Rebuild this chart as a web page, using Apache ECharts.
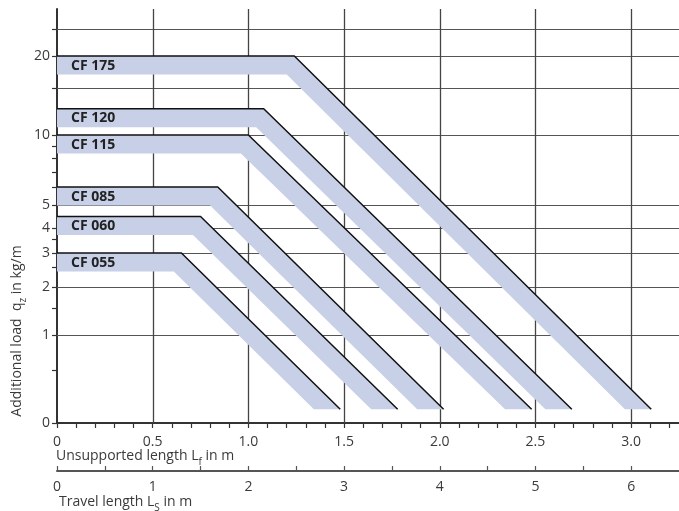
<!DOCTYPE html>
<html><head><meta charset="utf-8">
<script src="https://cdn.jsdelivr.net/npm/echarts@6/dist/echarts.min.js"></script>
<style>html,body{margin:0;padding:0;background:#fff}#c{width:679px;height:511px}</style>
</head><body><div id="c"></div>
<script>
// ---- data ----
const categories = ['CF 055', 'CF 060', 'CF 085', 'CF 115', 'CF 120', 'CF 175'];
const loadLevel  = [3, 4.5, 6, 10, 12.8, 20];          // kg/m, flat part
const kneeLength = [0.65, 0.75, 0.84, 1.0, 1.08, 1.24];   // Lf (m) where the curve starts to drop
const endLength  = [1.48, 1.78, 2.02, 2.48, 2.69, 3.105]; // Lf (m) at the end of the curve
const endLoad    = 0.13;                                  // kg/m at the end of every curve

// ---- axis definitions ----
// non-linear load scale: load values and their relative position on the axis
const yScaleQ   = [0, 0.5, 1, 1.5, 2, 2.5, 3, 3.5, 4, 5, 6, 7, 8, 9, 10, 15, 20, 30, 40];
const yScalePos = [0, 53, 88, 115, 136, 156, 170, 184, 195, 218, 236, 251, 265, 277, 288, 335, 367, 394, 414];
const yTickQ    = [0, 0.5, 1, 1.5, 2, 2.5, 3, 3.5, 4, 5, 6, 7, 8, 9, 10, 15, 20, 30];
const yLabelQ   = [0, 1, 2, 3, 4, 5, 10, 20];
const yGridQ    = [1, 2, 3, 4, 5, 10, 15, 20, 30];

const lfTicks  = [0,0.1,0.2,0.3,0.4,0.5,0.6,0.7,0.8,0.9,1,1.1,1.2,1.3,1.4,1.5,1.6,1.7,1.8,1.9,2,2.1,2.2,2.3,2.4,2.5,2.6,2.7,2.8,2.9,3,3.1,3.2];
const lfLabels = [0, 0.5, 1, 1.5, 2, 2.5, 3];
const lfGrid   = [0.5, 1, 1.5, 2, 2.5, 3];
const lsTicks  = [0,0.5,1,1.5,2,2.5,3,3.5,4,4.5,5,5.5,6];
const lsLabels = [0, 1, 2, 3, 4, 5, 6];

function toU(q) {
  for (let i = 1; i < yScaleQ.length; i++) {
    if (q <= yScaleQ[i]) {
      const t = (q - yScaleQ[i-1]) / (yScaleQ[i] - yScaleQ[i-1]);
      return yScalePos[i-1] + t * (yScalePos[i] - yScalePos[i-1]);
    }
  }
  return yScalePos[yScalePos.length-1];
}
const FONT = 'Open Sans';
const FS = 14;
const TXT = '#3a3a3a';
const yTickPos = yTickQ.map(toU);
const yLabelPos = yLabelQ.map(toU);
function yLabelFor(v) {
  let best = 0, bd = 1e9;
  yLabelPos.forEach((p, i) => { const d = Math.abs(p - v); if (d < bd) { bd = d; best = i; } });
  return String(yLabelQ[best]);
}

const BAND = 18.5;
function renderBand(params, api) {
  const A = api.coord([0, api.value(1)]);
  const B = api.coord([api.value(0), api.value(1)]);
  const C = api.coord([api.value(2), api.value(3)]);
  const dx = C[0]-B[0], dy = C[1]-B[1], L = Math.hypot(dx, dy);
  const vx = dx/L, vy = dy/L;
  const nx = -vy, ny = vx;
  const t1 = BAND*(1-ny)/vy;
  const Bp = [B[0] + BAND*nx + t1*vx, B[1] + BAND];
  const t2 = (C[1] - (B[1] + BAND*ny))/vy;
  const Cp = [B[0] + BAND*nx + t2*vx, C[1]];
  const Ap = [A[0], A[1] + BAND];
  return {
    type: 'group',
    children: [
      { type: 'polygon', shape: { points: [A, B, C, Cp, Bp, Ap] }, style: { fill: '#c8d0e8' } },
      { type: 'text', x: A[0] + 14, y: A[1] + BAND/2 + 0.5,
        style: { text: categories[api.value(4)], fontFamily: FONT, fontWeight: 'bold', fontSize: FS,
                 fill: '#222', textAlign: 'left', textVerticalAlign: 'middle' } }
    ]
  };
}
function renderHGrid(params, api) {
  const cs = params.coordSys;
  const p = api.coord([0, api.value(1)]);
  const y = Math.round(p[1]) + 0.5;
  return { type: 'line', shape: { x1: cs.x, y1: y, x2: cs.x + cs.width, y2: y },
           style: { stroke: '#555', lineWidth: 1.2 } };
}
function renderVGrid(params, api) {
  const cs = params.coordSys;
  const p = api.coord([api.value(0), 0]);
  const x = Math.round(p[0]) + 0.5;
  return { type: 'line', shape: { x1: x, y1: cs.y, x2: x, y2: cs.y + cs.height },
           style: { stroke: '#444', lineWidth: 1.3 } };
}

const series = [
  { type: 'custom', name: 'hgrid', z: 1, silent: true, renderItem: renderHGrid,
    encode: { x: 0, y: 1 }, data: yGridQ.map(q => [0, toU(q)]) },
  { type: 'custom', name: 'vgrid', z: 1, silent: true, renderItem: renderVGrid,
    encode: { x: 0, y: 1 }, data: lfGrid.map(x => [x, 0]) },
  { type: 'custom', name: 'bands', z: 3, silent: true, renderItem: renderBand,
    encode: { x: [0, 2], y: [1, 3] },
    data: categories.map((c, i) => [kneeLength[i], toU(loadLevel[i]), endLength[i], toU(endLoad), i]) }
];
categories.forEach((c, i) => {
  series.push({
    type: 'line', name: c, z: 4, silent: true, symbol: 'none',
    lineStyle: { color: '#111', width: 1.5 },
    data: [[0, toU(loadLevel[i])], [kneeLength[i], toU(loadLevel[i])], [endLength[i], toU(endLoad)]]
  });
});

const subStyle = { fontFamily: FONT, fontSize: 10, fill: TXT, verticalAlign: 'top', lineHeight: 10, padding: [8,0,0,0] };
const chart = echarts.init(document.getElementById('c'), null, { renderer: 'canvas' });
chart.setOption({
  animation: false,
  backgroundColor: '#fff',
  grid: { left: 57, right: 0, top: 9, bottom: 88, containLabel: false },
  xAxis: [
    { type: 'value', min: 0, max: 3.25, position: 'bottom',
      axisLine: { show: true, onZero: false, lineStyle: { color: '#333', width: 2 } },
      axisTick: { show: true, customValues: lfTicks, length: 5, lineStyle: { color: '#333', width: 1.2 } },
      axisLabel: { customValues: lfLabels, formatter: v => v === 0 ? '0' : v.toFixed(1),
                   margin: 12, color: TXT, fontSize: FS, fontFamily: FONT },
      splitLine: { show: false } },
    { type: 'value', min: 0, max: 6.5, position: 'bottom', offset: 48,
      axisLine: { show: true, onZero: false, lineStyle: { color: '#555', width: 2 } },
      axisTick: { show: true, inside: true, customValues: lsTicks, length: 5, lineStyle: { color: '#555', width: 1.2 } },
      axisLabel: { customValues: lsLabels, formatter: v => String(v),
                   margin: 9, color: TXT, fontSize: FS, fontFamily: FONT },
      splitLine: { show: false } }
  ],
  yAxis: {
    type: 'value', min: 0, max: 414,
    axisLine: { show: true, onZero: false, lineStyle: { color: '#333', width: 2 } },
    axisTick: { show: true, customValues: yTickPos, length: 5, lineStyle: { color: '#333', width: 1.2 } },
    axisLabel: { customValues: yLabelPos, formatter: v => yLabelFor(v), margin: 7,
                 color: TXT, fontSize: FS, fontFamily: FONT },
    splitLine: { show: false }
  },
  graphic: [
    { type: 'text', left: 56, top: 449,
      style: { text: 'Unsupported length L{s|f} in m', fontFamily: FONT, fontSize: FS, fill: TXT,
               rich: { s: subStyle } } },
    { type: 'text', left: 59, top: 495,
      style: { text: 'Travel length L{s|S} in m', fontFamily: FONT, fontSize: FS, fill: TXT,
               rich: { s: subStyle } } },
    { type: 'text', x: 17, y: 331, rotation: Math.PI / 2,
      style: { text: 'Additional load  q{s|z} in kg/m', fontFamily: FONT, fontSize: FS, fill: TXT,
               textAlign: 'center', textVerticalAlign: 'middle',
               rich: { s: subStyle } } }
  ],
  series: series
});
</script></body></html>
